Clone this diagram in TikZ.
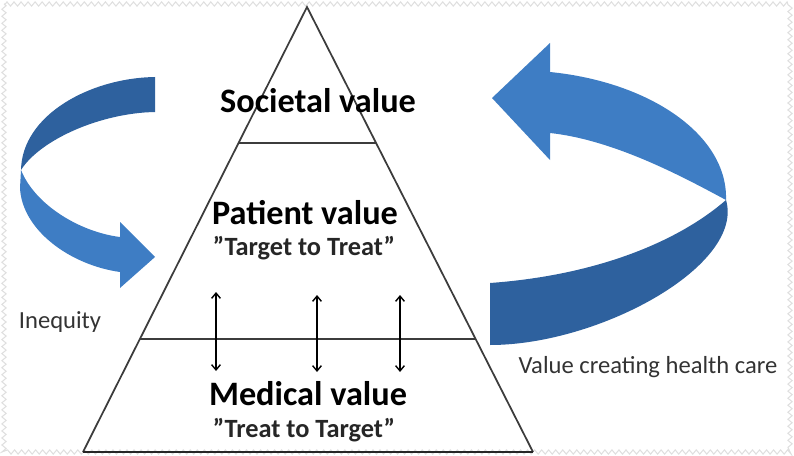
\documentclass[tikz,border=0pt]{standalone}
\usepackage{fontspec}
\setmainfont{Carlito}
\usetikzlibrary{arrows.meta,calc,decorations.pathmorphing}

\definecolor{ribbonlight}{RGB}{62,125,196}
\definecolor{ribbondark}{RGB}{46,97,158}
\definecolor{edgegray}{RGB}{60,60,60}

\begin{document}
\begin{tikzpicture}[x=0.02cm, y=-0.02cm,
    tier/.style={font=\fontsize{19.5}{22}\selectfont\bfseries, text=black, inner sep=0pt},
    motto/.style={font=\fontsize{15}{18}\selectfont\bfseries, text=black!85, inner sep=0pt},
    side/.style={font=\fontsize{14}{16}\selectfont, text=black!80, inner sep=0pt},
    level/.style={draw=edgegray, line width=1pt},
    link/.style={draw=black, line width=0.8pt, {Straight Barb[length=3pt,width=5pt]}-{Straight Barb[length=3pt,width=5pt]}},
    frame/.style={draw=gray!25, line width=0.6pt, decorate, decoration={zigzag, segment length=4pt, amplitude=1.2pt}}]
    \useasboundingbox (0,0) rectangle (794,456);
    \draw[frame] (4,4) rectangle (790,452);

    % pyramid
    \coordinate (apex) at (307,7);
    \coordinate (bl) at (83,452);
    \coordinate (br) at (533,452);
    \draw[level] (bl) -- (apex) -- (br);
    \draw[draw=black!85, line width=1.4pt] (bl) -- (br);
    \draw[level] ($(apex)!0.306!(bl)$) -- ($(apex)!0.306!(br)$);
    \draw[level] ($(apex)!0.746!(bl)$) -- ($(apex)!0.746!(br)$);

    % left ribbon (Inequity)
    \fill[ribbondark] (155,77) .. controls (90,78) and (22,115) .. (21,170)
        .. controls (40,140) and (100,113) .. (155,112) -- cycle;
    \fill[ribbonlight] (21,170) .. controls (35,205) and (80,232) .. (120,237)
        -- (120,222) -- (155,257) -- (120,288) -- (120,272)
        .. controls (70,265) and (22,230) .. (20,188) -- cycle;

    % right ribbon (value creating health care)
    \fill[ribbonlight] (492,98) -- (550,43) -- (550,72)
        .. controls (650,82) and (728,135) .. (726,200)
        .. controls (685,178) and (615,140) .. (550,133) -- (550,160) -- cycle;
    \fill[ribbondark] (490,283) .. controls (600,275) and (680,240) .. (726,200)
        .. controls (745,265) and (600,345) .. (490,345) -- cycle;

    % texts
    \node[tier] (societal) at (318,101) {Societal value};
    \node[tier] (patient) at (305,213) {Patient value};
    \node[motto] (targettreat) at (304,248) {”Target to Treat”};
    \node[tier] (medical) at (308,394) {Medical value};
    \node[motto] (treattarget) at (304,430) {”Treat to Target”};
    \node[side] (inequity) at (60,322) {Inequity};
    \node[side] (valuecare) at (648,367) {Value creating health care};

    % links between patient and medical value
    \coordinate (up1) at (216,292);
    \coordinate (dn1) at (216,371);
    \coordinate (up2) at (317,295);
    \coordinate (dn2) at (317,372);
    \coordinate (up3) at (400,295);
    \coordinate (dn3) at (400,372);
    \foreach \i in {1,2,3}
        \draw[link] (up\i) -- (dn\i);
\end{tikzpicture}
\end{document}
